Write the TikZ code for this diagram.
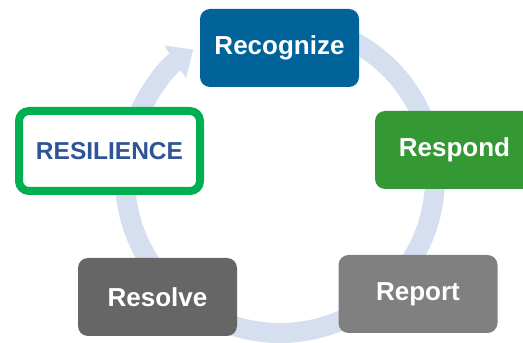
\documentclass[tikz,border=0pt]{standalone}
\usepackage{fontspec}
\setmainfont{Liberation Sans}
\usetikzlibrary{arrows.meta}
\definecolor{recblue}{RGB}{0,100,155}
\definecolor{resgreen}{RGB}{52,153,52}
\definecolor{repgray}{RGB}{128,128,128}
\definecolor{solgray}{RGB}{102,102,102}
\definecolor{resilgreen}{RGB}{0,176,80}
\definecolor{resiltext}{RGB}{47,85,151}
\definecolor{ringblue}{RGB}{214,223,239}
\tikzset{
  stagebox/.style={rounded corners=10pt, inner sep=0pt, minimum width=159pt,
    minimum height=78pt, text=white, font=\fontsize{26}{30}\selectfont\bfseries},
}
\begin{document}
\begin{tikzpicture}[x=1pt,y=1pt]
\useasboundingbox (0,0) rectangle (523,343);
\coordinate (ringc) at (280,165);
% cycle ring
\draw [ringblue, line width=20pt, -{Triangle[width=38pt,length=22pt]}]
  (ringc) ++(70:155) arc [start angle=70, end angle=-236, radius=155];
\node (recognize) [stagebox, fill=recblue] at (279.5,295) {Recognize};
\node (respond) [stagebox, fill=resgreen] at (454.5,193) {Respond};
\node (report) [stagebox, fill=repgray] at (418,49) {Report};
\node (resolve) [stagebox, fill=solgray] at (157.5,46) {Resolve};
\node (resilience) [rounded corners=10pt, inner sep=0pt, minimum width=181pt,
  minimum height=80pt, draw=resilgreen, line width=8pt, fill=white,
  text=resiltext, font=\fontsize{24.5}{29}\selectfont\bfseries]
  at (109.5,192) {RESILIENCE};
\end{tikzpicture}
\end{document}
